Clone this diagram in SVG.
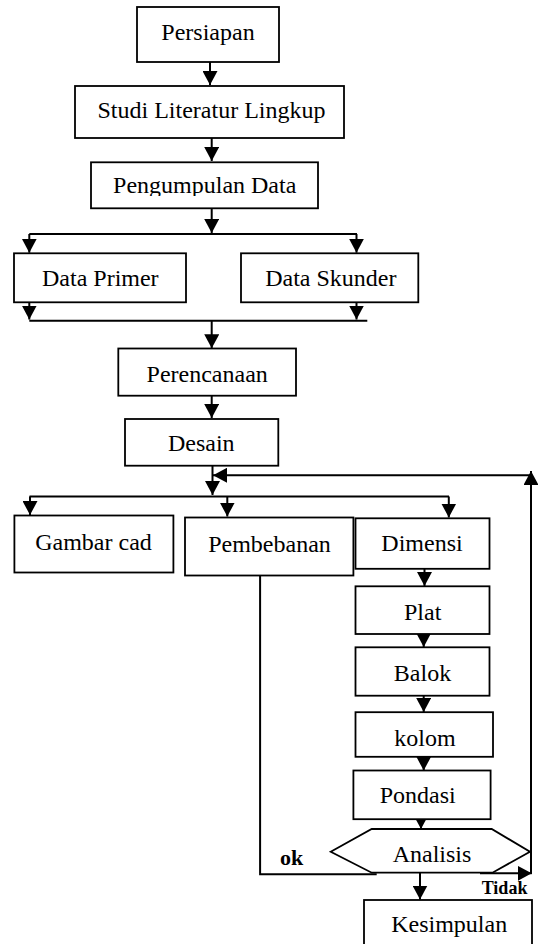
<svg xmlns="http://www.w3.org/2000/svg" width="538" height="944" viewBox="0 0 538 944">
<style>
.box{fill:#fff;stroke:#000;stroke-width:1.8}
.t{font-family:"Liberation Serif","Times New Roman",serif;font-size:24px;fill:#000;text-anchor:middle}
.b{font-family:"Liberation Serif","Times New Roman",serif;font-weight:bold;fill:#000}
.c{fill:none;stroke:#000;stroke-width:2}
.a{fill:none;stroke:#000;stroke-width:2;marker-end:url(#ah)}
</style>
<defs>
<marker id="ah" markerUnits="userSpaceOnUse" markerWidth="15" markerHeight="15" refX="14" refY="7.5" orient="auto">
<path d="M0,0 L14,7.5 L0,15 z" fill="#000"/>
</marker>
<clipPath id="pclip"><rect x="0" y="150" width="538" height="46"/></clipPath>
</defs>

<g id="connectors">
<line class="a" x1="210" y1="62" x2="210" y2="85"/>
<line class="a" x1="211.7" y1="138" x2="211.7" y2="161"/>
<line class="a" x1="211.7" y1="208" x2="211.7" y2="233"/>
<line class="c" x1="29.3" y1="234" x2="357" y2="234"/>
<line class="a" x1="29.3" y1="234" x2="29.3" y2="252.7"/>
<line class="a" x1="356.5" y1="234" x2="356.5" y2="252.7"/>
<line class="a" x1="29.3" y1="300" x2="29.3" y2="319.5"/>
<line class="a" x1="356.5" y1="300" x2="356.5" y2="319.5"/>
<line class="c" x1="29.3" y1="320.7" x2="367.3" y2="320.7"/>
<line class="a" x1="211.7" y1="320.7" x2="211.7" y2="348.3"/>
<line class="a" x1="211.7" y1="396" x2="211.7" y2="418"/>
<line class="a" x1="212.5" y1="466" x2="212.5" y2="495"/>
<line class="c" x1="29.5" y1="496.5" x2="449" y2="496.5"/>
<line class="a" x1="30" y1="496.5" x2="30" y2="515"/>
<line class="a" x1="227.3" y1="496.5" x2="227.3" y2="516.5"/>
<line class="a" x1="448.8" y1="496.5" x2="448.8" y2="517.5"/>
<line class="a" x1="424.5" y1="569" x2="424.5" y2="586"/>
<line class="a" x1="423.7" y1="634" x2="423.7" y2="647"/>
<line class="a" x1="423.7" y1="696" x2="423.7" y2="712"/>
<line class="a" x1="423.7" y1="757" x2="423.7" y2="770.5"/>
<line class="a" x1="421" y1="815" x2="421" y2="829"/>
<line class="a" x1="420" y1="872" x2="420" y2="899.5"/>
<polyline class="c" points="260.1,575.6 260.1,874.3 376.7,874.3"/>
<line class="a" x1="480" y1="873.3" x2="531.7" y2="873.3"/>
<line class="a" x1="531" y1="874" x2="531" y2="471"/>
<line class="a" x1="531" y1="475.3" x2="213" y2="475.3"/>
</g>

<g id="persiapan"><rect class="box" x="137" y="7" width="142" height="55"/><text class="t" x="208" y="40">Persiapan</text></g>
<g id="studi"><rect class="box" x="75" y="86" width="269" height="52"/><text class="t" x="211.5" y="118.3">Studi Literatur Lingkup</text></g>
<g id="pengumpulan"><rect class="box" x="91" y="162.3" width="227" height="46"/><text class="t" x="204.7" y="193.3" clip-path="url(#pclip)">Pengumpulan Data</text></g>
<g id="data-primer"><rect class="box" x="14" y="253.3" width="172" height="49"/><text class="t" x="100.3" y="285.7">Data Primer</text></g>
<g id="data-skunder"><rect class="box" x="241" y="253.3" width="177.3" height="49"/><text class="t" x="330.8" y="285.7">Data Skunder</text></g>
<g id="perencanaan"><rect class="box" x="118.3" y="348.5" width="177.7" height="47.2"/><text class="t" x="207.2" y="381.7">Perencanaan</text></g>
<g id="desain"><rect class="box" x="125" y="419" width="153.3" height="46.7"/><text class="t" x="201.3" y="450.7">Desain</text></g>
<g id="gambar-cad"><rect class="box" x="14.4" y="515.5" width="159" height="57"/><text class="t" x="93.5" y="549.7">Gambar cad</text></g>
<g id="pembebanan"><rect class="box" x="185" y="517.5" width="168.4" height="58"/><text class="t" x="269.5" y="551.6">Pembebanan</text></g>
<g id="dimensi"><rect class="box" x="355.5" y="518.3" width="134" height="50.5"/><text class="t" x="422" y="551.3">Dimensi</text></g>
<g id="plat"><rect class="box" x="355.5" y="586.3" width="134" height="47.7"/><text class="t" x="422.7" y="620">Plat</text></g>
<g id="balok"><rect class="box" x="355.5" y="647.3" width="134" height="48.4"/><text class="t" x="422.5" y="680.6">Balok</text></g>
<g id="kolom"><rect class="box" x="355.5" y="712.2" width="137.5" height="44.6"/><text class="t" x="425" y="745.8">kolom</text></g>
<g id="pondasi"><rect class="box" x="353.4" y="770.5" width="137.2" height="48.7"/><text class="t" x="417.7" y="803">Pondasi</text></g>
<g id="analisis"><polygon class="box" points="330.7,851.7 371.7,829 491.7,829 530,851.7 492.5,872.7 371.7,872.7"/><text class="t" x="432" y="861.7">Analisis</text></g>
<g id="kesimpulan"><rect class="box" x="364" y="900" width="168" height="60"/><text class="t" x="449.2" y="931.7">Kesimpulan</text></g>
<g id="labels">
<text class="b" x="280" y="865" font-size="22">ok</text>
<text class="b" x="481.7" y="894" font-size="18">Tidak</text>
</g>
</svg>
